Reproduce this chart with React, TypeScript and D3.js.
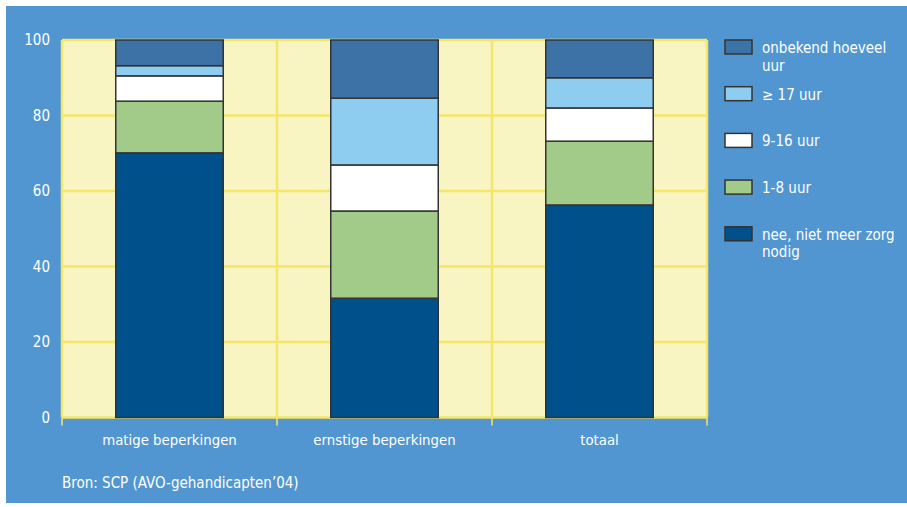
import React from "react";
import * as d3 from "d3";

const categories = ["matige beperkingen", "ernstige beperkingen", "totaal"];
const seriesNames = ["nee, niet meer zorg nodig", "1-8 uur", "9-16 uur", "≥ 17 uur", "onbekend hoeveel uur"];
const neeValues = [70.1, 31.6, 56.3];
const uur1to8Values = [13.7, 23.1, 16.9];
const uur9to16Values = [6.7, 12.2, 8.8];
const uur17plusValues = [2.7, 17.7, 8.0];
const onbekendValues = [6.8, 15.4, 10.0];
const yTicks = [0, 20, 40, 60, 80, 100];
const legendLines = [["onbekend hoeveel", "uur"], ["≥ 17 uur"], ["9-16 uur"], ["1-8 uur"], ["nee, niet meer zorg", "nodig"]];
const sourceText = "Bron: SCP (AVO-gehandicapten’04)";

const colors = ["#00508C", "#A2CA88", "#FFFFFF", "#8ECDF0", "#3D72A6"];
const FONT = "'Liberation Sans Narrow', 'DejaVu Sans Condensed', 'Open Sans', sans-serif";

export default function App() {
  const W = 907, H = 507;
  const left = 62, right = 707, top = 40, bottom = 417.5;
  const x = d3.scaleBand<string>().domain(categories).range([left, right]).paddingInner(0).paddingOuter(0);
  const y = d3.scaleLinear().domain([0, 100]).range([bottom, top]);
  const bw = x.bandwidth();
  const barW = bw * 0.5;

  const rows = categories.map((c, i) => ({
    cat: c,
    s0: neeValues[i], s1: uur1to8Values[i], s2: uur9to16Values[i], s3: uur17plusValues[i], s4: onbekendValues[i],
  }));
  const stack = d3.stack<any>().keys(["s0", "s1", "s2", "s3", "s4"]);
  const stacked = stack(rows);

  const boundaries = [left, ...categories.map((c) => (x(c) as number) + bw)];

  const legendColors = [colors[4], colors[3], colors[2], colors[1], colors[0]];

  return (
    <svg width={W} height={H} style={{ position: "absolute", left: 0, top: 0 }} fontFamily={FONT}>
      <rect x={0} y={0} width={W} height={H} fill="#ffffff" />
      <rect x={6} y={6} width={W - 6} height={497} fill="#5196D0" />
      <rect x={left} y={top} width={right - left} height={bottom - top} fill="#F8F5C2" />
      {yTicks.map((t) => (
        <line key={"h" + t} x1={left} x2={right} y1={y(t)} y2={y(t)} stroke="#F5E66B" strokeWidth={2.5} />
      ))}
      {boundaries.map((b, i) => (
        <g key={"v" + i}>
          <line x1={b} x2={b} y1={top} y2={bottom} stroke="#F5E66B" strokeWidth={2.5} />
          <line x1={b} x2={b} y1={bottom} y2={bottom + 8} stroke="#F5E66B" strokeWidth={1.5} />
        </g>
      ))}
      {stacked.map((layer, li) =>
        layer.map((d, i) => {
          const cx = (x(categories[i]) as number) + bw / 2;
          return (
            <rect
              key={li + "-" + i}
              x={cx - barW / 2}
              y={y(d[1])}
              width={barW}
              height={y(d[0]) - y(d[1])}
              fill={colors[li]}
              stroke="#333333"
              strokeWidth={1.5}
            />
          );
        })
      )}
      {yTicks.map((t) => (
        <text key={"yt" + t} x={50} y={y(t)} dy="0.35em" textAnchor="end" fill="#ffffff" fontSize={15}>
          {t}
        </text>
      ))}
      {categories.map((c) => (
        <text key={c} x={(x(c) as number) + bw / 2} y={445} textAnchor="middle" fill="#ffffff" fontSize={14.8}>
          {c}
        </text>
      ))}
      <text x={62} y={488} fill="#ffffff" fontSize={15}>{sourceText}</text>
      {legendLines.map((lines, i) => {
        const sy = 40 + i * 46.7;
        return (
          <g key={"lg" + i}>
            <rect x={725} y={sy} width={27} height={14} fill={legendColors[i]} stroke="#333333" strokeWidth={1.5} />
            {lines.map((ln, j) => (
              <text key={j} x={762} y={sy + 13 + j * 17.5} fill="#ffffff" fontSize={15}>
                {ln}
              </text>
            ))}
          </g>
        );
      })}
    </svg>
  );
}
